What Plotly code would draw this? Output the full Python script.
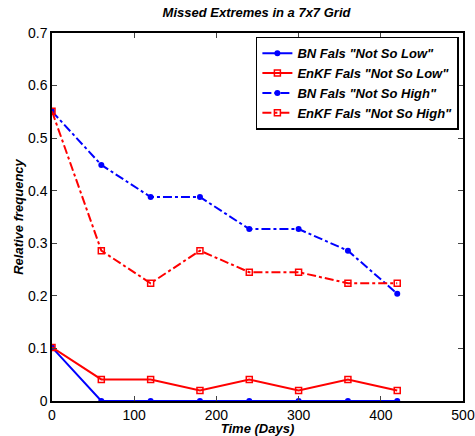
import plotly.graph_objects as go

time_days = [0, 60, 120, 180, 240, 300, 360, 420]
bn_low = [0.102, 0.0, 0.0, 0.0, 0.0, 0.0, 0.0, 0.0]
enkf_low = [0.102, 0.041, 0.041, 0.020, 0.041, 0.020, 0.041, 0.020]
bn_high = [0.551, 0.449, 0.388, 0.388, 0.327, 0.327, 0.286, 0.204]
enkf_high = [0.551, 0.286, 0.224, 0.286, 0.245, 0.245, 0.224, 0.224]

names = ['BN Fals "Not So Low"', 'EnKF Fals "Not So Low"',
         'BN Fals "Not So High"', 'EnKF Fals "Not So High"']

fig = go.Figure()
fig.add_trace(go.Scatter(x=time_days, y=bn_low, name=names[0], mode="lines+markers",
                         line=dict(color="#0000ff", width=2),
                         marker=dict(symbol="circle", size=6, color="#0000ff")))
fig.add_trace(go.Scatter(x=time_days, y=enkf_low, name=names[1], mode="lines+markers",
                         line=dict(color="#ff0000", width=2),
                         marker=dict(symbol="square-open", size=6, color="#ff0000", line=dict(width=1.5))))
fig.add_trace(go.Scatter(x=time_days, y=bn_high, name=names[2], mode="lines+markers",
                         line=dict(color="#0000ff", width=2, dash="dashdot"),
                         marker=dict(symbol="circle", size=6, color="#0000ff")))
fig.add_trace(go.Scatter(x=time_days, y=enkf_high, name=names[3], mode="lines+markers",
                         line=dict(color="#ff0000", width=2, dash="dashdot"),
                         marker=dict(symbol="square-open", size=6, color="#ff0000", line=dict(width=1.5))))

fontfam = "Liberation Sans, Arial, sans-serif"
fig.update_layout(
    width=475, height=436,
    margin=dict(l=52, r=12, t=33, b=35),
    paper_bgcolor="white", plot_bgcolor="white",
    font=dict(family=fontfam, size=14, color="black"),
    title=dict(text="<b><i>Missed Extremes in a 7x7 Grid</i></b>", x=0.54, xanchor="center",
               y=0.972, yanchor="middle", font=dict(size=13)),
    showlegend=True,
    legend=dict(x=0.99, y=0.99, xanchor="right", yanchor="top",
                bordercolor="black", borderwidth=1.5, bgcolor="white",
                font=dict(size=13), tracegroupgap=0, itemwidth=30),
)
fig.update_xaxes(range=[0, 500], dtick=100, tick0=0, ticks="inside", ticklen=5,
                 showline=True, linecolor="black", linewidth=1.5, mirror="ticks",
                 showgrid=False, zeroline=False, automargin=False,
                 title=dict(text="<b><i>Time (Days)</i></b>", font=dict(size=13), standoff=0))
fig.update_yaxes(range=[0, 0.7], dtick=0.1, tick0=0, ticks="inside", ticklen=5,
                 showline=True, linecolor="black", linewidth=1.5, mirror="ticks",
                 showgrid=False, zeroline=False, tickformat=".1~f", automargin=False,
                 title=dict(text="<b><i>Relative frequency</i></b>", font=dict(size=13), standoff=1))

for tr in fig.data:
    tr.name = "<b><i>" + tr.name + "</i></b>"

fig.write_html("out.html")
